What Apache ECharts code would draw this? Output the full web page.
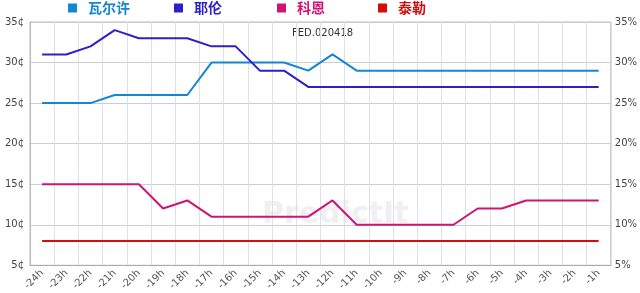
<!DOCTYPE html>
<html><head><meta charset="utf-8">
<script src="https://cdn.jsdelivr.net/npm/echarts@6/dist/echarts.min.js"></script>
<style>html,body{margin:0;padding:0;background:#fff}#c{width:640px;height:293px}</style>
</head><body><div id="c"></div>
<script>
const categories = ['-24h','-23h','-22h','-21h','-20h','-19h','-18h','-17h','-16h','-15h','-14h','-13h','-12h','-11h','-10h','-9h','-8h','-7h','-6h','-5h','-4h','-3h','-2h','-1h'];
const warsh  = [25,25,25,26,26,26,26,30,30,30,30,29,31,29,29,29,29,29,29,29,29,29,29,29];
const yellen = [31,31,32,34,33,33,33,32,32,29,29,27,27,27,27,27,27,27,27,27,27,27,27,27];
const cohn   = [15,15,15,15,15,12,13,11,11,11,11,11,13,10,10,10,10,10,12,12,13,13,13,13];
const taylor = [8,8,8,8,8,8,8,8,8,8,8,8,8,8,8,8,8,8,8,8,8,8,8,8];
const names = ['瓦尔许','耶伦','科恩','泰勒'];
const colors = ['#1486d2','#2f1fc9','#cf1475','#d40d0d'];
const values = [warsh, yellen, cohn, taylor];
const legendLeft = [68,174,277,378];
const font = 'DejaVu Sans, Verdana, sans-serif';

const chart = echarts.init(document.getElementById('c'));
chart.setOption({
  animation:false,
  grid:{left:30,right:27,top:22,bottom:21,show:true,borderColor:'#bbb',borderWidth:1},
  legend: names.map((n,i)=>({
    data:[{name:n,icon:'rect'}],left:legendLeft[i],top:1,padding:0,itemWidth:9,itemHeight:9,
    textStyle:{color:colors[i],fontSize:14,fontWeight:'bold',fontFamily:'Noto Sans CJK SC',padding:[0,0,0,6]}
  })),
  graphic:[
    {type:'text',left:292,top:28,style:{text:'FED.020418',fill:'#333',font:'10px '+font}},
    {type:'text',left:262,top:200,z:-1,style:{text:'PredictIt',fill:'#f0f0f0',font:'bold 30px '+font}}
  ],
  xAxis:{type:'category',data:categories,boundaryGap:true,
    axisLine:{lineStyle:{color:'#aaa'}},axisTick:{show:false},
    splitLine:{show:true,lineStyle:{color:'#dde0e8'}},
    axisLabel:{rotate:45,fontSize:10,color:'#555',fontFamily:font,margin:6,interval:0}},
  yAxis:[
    {type:'value',min:5,max:35,interval:5,position:'left',
     axisLine:{show:true,lineStyle:{color:'#bbb'}},axisTick:{show:false},
     splitLine:{lineStyle:{color:'#ccc'}},
     axisLabel:{formatter:'{value}¢',fontSize:10,color:'#444',fontFamily:font,margin:6}},
    {type:'value',min:5,max:35,interval:5,position:'right',
     axisLine:{show:false},axisTick:{show:false},splitLine:{show:false},
     axisLabel:{formatter:'{value}%',fontSize:10,color:'#444',fontFamily:font,margin:4}}
  ],
  series: names.map((n,i)=>({
    name:n,type:'line',data:values[i],showSymbol:false,symbol:'none',
    lineStyle:{color:colors[i],width:2},itemStyle:{color:colors[i]}
  }))
});
</script></body></html>
